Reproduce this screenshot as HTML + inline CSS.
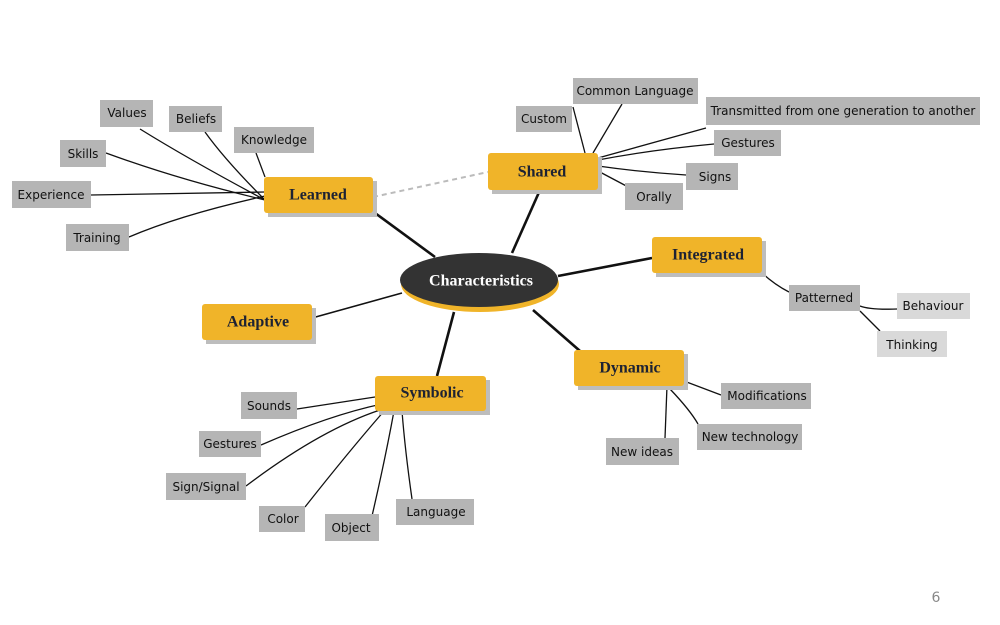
<!DOCTYPE html>
<html><head><meta charset="utf-8"><style>
html,body{margin:0;padding:0;background:#fff;width:1000px;height:625px;overflow:hidden}
svg{display:block}
.g{fill:#b5b5b5}
.l{fill:#d9d9d9}
.y{fill:#f0b429}
.sh{fill:#bdbdbd}
.t{font-family:"DejaVu Sans","Liberation Sans",sans-serif;font-size:12px;fill:#111;text-anchor:middle;dominant-baseline:central}
.h{font-family:"Liberation Serif",serif;font-weight:bold;font-size:16px;fill:#1d2233;text-anchor:middle;dominant-baseline:central}
.k{stroke:#111;fill:none;stroke-width:1.3}
.kk{stroke:#111;fill:none;stroke-width:2.6}
</style></head><body>
<svg width="1000" height="625" viewBox="0 0 1000 625" xmlns="http://www.w3.org/2000/svg">
<!-- connectors -->
<g class="k">
<path d="M140 129 Q190 160 265 200"/>
<path d="M205 132 Q225 160 265 200"/>
<path d="M256 153 L265 177"/>
<path d="M106 153 Q180 180 265 200"/>
<path d="M91 195 L265 192"/>
<path d="M129 237 Q180 215 265 196"/>
<path d="M573 107 L585 153"/>
<path d="M622 104 L593 153"/>
<path d="M706 128 L598 158"/>
<path d="M714 144 Q650 150 598 160"/>
<path d="M686 175 Q640 172 598 166"/>
<path d="M632 189 L598 171"/>
<path d="M762 273 Q775 285 789 292"/>
<path d="M860 306 Q870 310 897 309"/>
<path d="M860 311 L880 331"/>
<path d="M684 381 L721 395"/>
<path d="M670 389 Q690 410 698 424"/>
<path d="M667 386 L665 438"/>
<path d="M297 409 L375 397"/>
<path d="M261 445 Q330 415 382 404"/>
<path d="M246 486 Q320 430 380 410"/>
<path d="M305 507 Q350 450 385 410"/>
<path d="M372 516 Q385 460 394 411"/>
<path d="M412 499 Q405 450 402 411"/>
</g>
<path d="M373 197 L488 172" stroke="#bbb" stroke-width="2" stroke-dasharray="5,4" fill="none"/>
<g class="kk">
<path d="M375 213 L435 257"/>
<path d="M540 190 L512 253"/>
<path d="M558 276 L652 258"/>
<path d="M533 310 L580 351"/>
<path d="M454 312 L437 376"/>
<path d="M312 318 L402 293" stroke-width="1.6"/>
</g>
<!-- center -->
<ellipse cx="480" cy="284" rx="79" ry="28" class="y"/>
<ellipse cx="479" cy="280" rx="79" ry="27" fill="#333"/>
<text x="481" y="281" class="h" style="fill:#fff;font-size:16px">Characteristics</text>
<!-- yellow nodes -->
<g>
<rect x="268" y="181" width="109" height="36" class="sh"/><rect x="264" y="177" width="109" height="36" rx="3" class="y"/><text x="318" y="195" class="h">Learned</text>
<rect x="492" y="157" width="110" height="37" class="sh"/><rect x="488" y="153" width="110" height="37" rx="3" class="y"/><text x="542" y="172" class="h">Shared</text>
<rect x="656" y="241" width="110" height="36" class="sh"/><rect x="652" y="237" width="110" height="36" rx="3" class="y"/><text x="708" y="255" class="h">Integrated</text>
<rect x="206" y="308" width="110" height="36" class="sh"/><rect x="202" y="304" width="110" height="36" rx="3" class="y"/><text x="258" y="322" class="h">Adaptive</text>
<rect x="578" y="354" width="110" height="36" class="sh"/><rect x="574" y="350" width="110" height="36" rx="3" class="y"/><text x="630" y="368" class="h">Dynamic</text>
<rect x="379" y="380" width="111" height="35" class="sh"/><rect x="375" y="376" width="111" height="35" rx="3" class="y"/><text x="432" y="393" class="h">Symbolic</text>
</g>
<!-- gray nodes -->
<g>
<rect x="100" y="100" width="53" height="27" class="g"/><text x="127" y="113" class="t">Values</text>
<rect x="169" y="106" width="53" height="26" class="g"/><text x="196" y="119" class="t">Beliefs</text>
<rect x="234" y="127" width="80" height="26" class="g"/><text x="274" y="140" class="t">Knowledge</text>
<rect x="60" y="140" width="46" height="27" class="g"/><text x="83" y="154" class="t">Skills</text>
<rect x="12" y="181" width="79" height="27" class="g"/><text x="51" y="195" class="t">Experience</text>
<rect x="66" y="224" width="63" height="27" class="g"/><text x="97" y="238" class="t">Training</text>
<rect x="516" y="106" width="56" height="26" class="g"/><text x="544" y="119" class="t">Custom</text>
<rect x="573" y="78" width="125" height="26" class="g"/><text x="635" y="91" class="t">Common Language</text>
<rect x="706" y="97" width="274" height="28" class="g"/><text x="843" y="111" class="t">Transmitted from one generation to another</text>
<rect x="714" y="130" width="67" height="26" class="g"/><text x="748" y="143" class="t">Gestures</text>
<rect x="686" y="163" width="52" height="27" class="g"/><text x="715" y="177" class="t">Signs</text>
<rect x="625" y="183" width="58" height="27" class="g"/><text x="654" y="197" class="t">Orally</text>
<rect x="789" y="285" width="71" height="26" class="g"/><text x="824" y="298" class="t">Patterned</text>
<rect x="897" y="293" width="73" height="26" class="l"/><text x="933" y="306" class="t">Behaviour</text>
<rect x="877" y="331" width="70" height="26" class="l"/><text x="912" y="345" class="t">Thinking</text>
<rect x="721" y="383" width="90" height="26" class="g"/><text x="767" y="396" class="t">Modifications</text>
<rect x="697" y="424" width="105" height="26" class="g"/><text x="750" y="437" class="t">New technology</text>
<rect x="606" y="438" width="73" height="27" class="g"/><text x="642" y="452" class="t">New ideas</text>
<rect x="241" y="392" width="56" height="27" class="g"/><text x="269" y="406" class="t">Sounds</text>
<rect x="199" y="431" width="62" height="26" class="g"/><text x="230" y="444" class="t">Gestures</text>
<rect x="166" y="473" width="80" height="27" class="g"/><text x="206" y="487" class="t">Sign/Signal</text>
<rect x="259" y="506" width="46" height="26" class="g"/><text x="283" y="519" class="t">Color</text>
<rect x="325" y="514" width="54" height="27" class="g"/><text x="351" y="528" class="t">Object</text>
<rect x="396" y="499" width="78" height="26" class="g"/><text x="436" y="512" class="t">Language</text>
</g>
<text x="936" y="598" style="font-family:'DejaVu Sans','Liberation Sans',sans-serif;font-size:14px;fill:#888;text-anchor:middle;dominant-baseline:central">6</text>
</svg>
</body></html>
